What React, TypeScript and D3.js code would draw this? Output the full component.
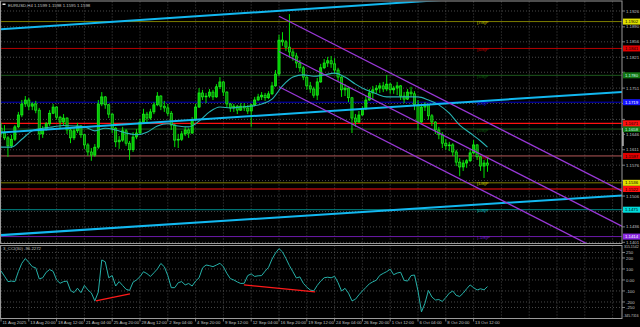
import React from 'react';
import * as d3 from 'd3';

const W = 640;
const H = 327;

// ---------- data ----------
const symbolHeader = 'EURUSD,H4  1.1599 1.1598 1.1595 1.1598';
const cciHeader = '3_CCI(30) -96.2272';

// OHLC, one candle per 2 H4 bars
const candles: [number, number, number, number][] = [
  [1.1660,1.1672,1.1640,1.1649],[1.1649,1.1667,1.1633,1.1638],[1.1638,1.1642,1.1595,1.1620],[1.1620,1.1645,1.1615,1.1635],
  [1.1635,1.1667,1.1631,1.1663],[1.1663,1.1697,1.1660,1.1690],[1.1690,1.1724,1.1685,1.1715],[1.1715,1.1733,1.1708,1.1724],
  [1.1724,1.1729,1.1701,1.1710],[1.1710,1.1719,1.1701,1.1715],[1.1715,1.1722,1.1694,1.1701],[1.1701,1.1706,1.1633,1.1647],
  [1.1647,1.1665,1.1638,1.1658],[1.1658,1.1674,1.1654,1.1670],[1.1670,1.1701,1.1665,1.1694],[1.1694,1.1715,1.1692,1.1708],
  [1.1708,1.1710,1.1679,1.1685],[1.1685,1.1688,1.1660,1.1674],[1.1674,1.1692,1.1667,1.1683],[1.1683,1.1685,1.1647,1.1656],
  [1.1656,1.1658,1.1626,1.1638],[1.1638,1.1660,1.1633,1.1654],[1.1654,1.1672,1.1649,1.1665],[1.1665,1.1667,1.1638,1.1645],
  [1.1645,1.1647,1.1613,1.1622],[1.1622,1.1626,1.1597,1.1606],[1.1606,1.1615,1.1586,1.1599],[1.1599,1.1624,1.1595,1.1617],
  [1.1617,1.1724,1.1613,1.1715],[1.1715,1.1742,1.1710,1.1731],[1.1731,1.1733,1.1704,1.1713],[1.1713,1.1715,1.1683,1.1692],
  [1.1692,1.1694,1.1649,1.1660],[1.1660,1.1663,1.1617,1.1629],[1.1629,1.1642,1.1613,1.1633],[1.1633,1.1663,1.1629,1.1654],
  [1.1654,1.1658,1.1620,1.1626],[1.1626,1.1631,1.1588,1.1611],[1.1611,1.1651,1.1606,1.1640],[1.1640,1.1658,1.1635,1.1649],
  [1.1649,1.1681,1.1647,1.1674],[1.1674,1.1704,1.1670,1.1692],[1.1692,1.1697,1.1674,1.1683],[1.1683,1.1704,1.1679,1.1697],
  [1.1697,1.1719,1.1692,1.1713],[1.1713,1.1742,1.1710,1.1733],[1.1733,1.1735,1.1701,1.1710],[1.1710,1.1722,1.1697,1.1706],
  [1.1706,1.1715,1.1688,1.1694],[1.1694,1.1699,1.1656,1.1667],[1.1667,1.1670,1.1617,1.1633],[1.1633,1.1647,1.1615,1.1635],
  [1.1635,1.1654,1.1631,1.1647],[1.1647,1.1663,1.1642,1.1656],[1.1656,1.1660,1.1638,1.1649],[1.1649,1.1685,1.1647,1.1679],
  [1.1679,1.1715,1.1676,1.1708],[1.1708,1.1751,1.1706,1.1740],[1.1740,1.1747,1.1724,1.1731],[1.1731,1.1740,1.1717,1.1733],
  [1.1733,1.1749,1.1729,1.1742],[1.1742,1.1747,1.1724,1.1731],[1.1731,1.1760,1.1729,1.1754],[1.1754,1.1776,1.1749,1.1765],
  [1.1765,1.1767,1.1733,1.1742],[1.1742,1.1744,1.1706,1.1715],[1.1715,1.1717,1.1697,1.1706],[1.1706,1.1715,1.1697,1.1710],
  [1.1710,1.1713,1.1692,1.1701],[1.1701,1.1717,1.1699,1.1710],[1.1710,1.1717,1.1699,1.1706],[1.1706,1.1713,1.1692,1.1699],
  [1.1699,1.1715,1.1663,1.1713],[1.1713,1.1731,1.1710,1.1724],[1.1724,1.1738,1.1722,1.1731],[1.1731,1.1742,1.1724,1.1735],
  [1.1735,1.1740,1.1722,1.1729],[1.1729,1.1744,1.1726,1.1738],[1.1738,1.1765,1.1735,1.1756],[1.1756,1.1792,1.1754,1.1783],
  [1.1783,1.1872,1.1778,1.1860],[1.1860,1.1878,1.1847,1.1856],[1.1856,1.1860,1.1835,1.1844],[1.1844,1.1919,1.1819,1.1833],
  [1.1833,1.1840,1.1813,1.1824],[1.1824,1.1831,1.1797,1.1808],[1.1808,1.1815,1.1788,1.1797],[1.1797,1.1801,1.1769,1.1776],
  [1.1776,1.1778,1.1747,1.1756],[1.1756,1.1765,1.1740,1.1749],[1.1749,1.1754,1.1729,1.1735],[1.1735,1.1774,1.1724,1.1765],
  [1.1765,1.1806,1.1763,1.1797],[1.1797,1.1817,1.1794,1.1808],[1.1808,1.1822,1.1799,1.1813],[1.1813,1.1824,1.1797,1.1806],
  [1.1806,1.1819,1.1783,1.1792],[1.1792,1.1797,1.1767,1.1776],[1.1776,1.1778,1.1731,1.1747],[1.1747,1.1760,1.1733,1.1751],
  [1.1751,1.1754,1.1719,1.1729],[1.1729,1.1731,1.1649,1.1683],[1.1683,1.1692,1.1663,1.1674],[1.1674,1.1699,1.1672,1.1690],
  [1.1690,1.1710,1.1688,1.1704],[1.1704,1.1733,1.1701,1.1724],[1.1724,1.1749,1.1722,1.1740],[1.1740,1.1756,1.1724,1.1747],
  [1.1747,1.1758,1.1738,1.1751],[1.1751,1.1763,1.1740,1.1756],[1.1756,1.1765,1.1742,1.1749],[1.1749,1.1781,1.1744,1.1760],
  [1.1760,1.1763,1.1738,1.1747],[1.1747,1.1756,1.1738,1.1751],[1.1751,1.1765,1.1735,1.1756],[1.1756,1.1758,1.1724,1.1733],
  [1.1733,1.1742,1.1717,1.1726],[1.1726,1.1749,1.1724,1.1742],[1.1742,1.1754,1.1731,1.1738],[1.1738,1.1744,1.1701,1.1713],
  [1.1713,1.1724,1.1656,1.1674],[1.1674,1.1715,1.1672,1.1708],[1.1708,1.1719,1.1699,1.1713],[1.1713,1.1715,1.1679,1.1688],
  [1.1688,1.1692,1.1665,1.1674],[1.1674,1.1676,1.1647,1.1656],[1.1656,1.1663,1.1635,1.1645],[1.1645,1.1651,1.1615,1.1626],
  [1.1626,1.1635,1.1611,1.1620],[1.1620,1.1629,1.1608,1.1622],[1.1622,1.1626,1.1597,1.1606],[1.1606,1.1611,1.1574,1.1583],
  [1.1583,1.1592,1.1551,1.1572],[1.1572,1.1588,1.1563,1.1581],[1.1581,1.1590,1.1570,1.1586],[1.1586,1.1611,1.1583,1.1604],
  [1.1604,1.1633,1.1601,1.1622],[1.1622,1.1624,1.1588,1.1595],[1.1595,1.1597,1.1563,1.1574],[1.1574,1.1588,1.1547,1.1581],
  [1.1581,1.1592,1.1561,1.1576],
];

// moving average: [candle index, value]
const maPoints: [number, number][] = [
  [0,1.1617],[3,1.1617],[6,1.1635],[9,1.1654],[12,1.1660],[15,1.1663],[18,1.1666],[21,1.1665],[24,1.1663],[27,1.1654],
  [30,1.1660],[33,1.1656],[36,1.1649],[39,1.1645],[42,1.1651],[45,1.1665],[48,1.1670],[51,1.1665],[54,1.1663],[57,1.1676],
  [60,1.1697],[63,1.1708],[66,1.1706],[69,1.1708],[72,1.1710],[75,1.1715],[78,1.1726],[81,1.1756],[84,1.1776],[87,1.1781],
  [90,1.1778],[93,1.1781],[96,1.1785],[99,1.1776],[102,1.1760],[105,1.1747],[108,1.1738],[111,1.1731],[114,1.1731],[117,1.1731],
  [120,1.1731],[123,1.1724],[126,1.1713],[129,1.1694],[132,1.1667],[135,1.1649],[138,1.1631],[140,1.1617],
];

// CCI(30), one value per candle
const cciValues: number[] = [
  82,35,-15,-10,-15,76,152,195,160,121,110,10,20,70,95,78,0,-30,-15,-10,
  -95,-115,-75,-115,-50,-90,-118,-190,-110,182,165,20,40,-55,-15,-50,-85,-95,-20,0,
  30,75,58,32,65,100,150,120,40,-70,-70,-25,-15,-45,-32,-55,-10,20,110,136,
  130,121,136,152,120,60,12,0,-18,-32,-30,40,55,32,38,40,80,115,190,245,
  285,255,195,130,75,18,28,-30,-65,-91,-100,-50,-10,20,25,20,33,-25,-100,-76,
  -120,-190,-175,-135,-100,-68,-35,-17,-2,42,60,76,98,48,63,70,-3,-10,40,45,
  -100,-290,-212,-95,-155,-182,-178,-195,-160,-120,-100,-140,-150,-120,-80,-45,-70,-91,-80,-90,
  -60,
];

// CCI divergence segments: [candle idx, cci, candle idx, cci]
const cciDivergences: [number, number, number, number][] = [
  [27.3, -191, 37.1, -127],
  [69.9, -45, 90.4, -109],
];

// rising channel (cyan): [idx0, price0, idx1, price1]
const risingChannel: [number, number, number, number][] = [
  [0, 1.1884, 180, 1.1979],
  [0, 1.1650, 180, 1.1743],
  [0, 1.1417, 180, 1.1508],
];
// falling channel (purple)
const fallingChannel: [number, number, number, number][] = [
  [80, 1.1914, 180, 1.1512],
  [80, 1.1834, 180, 1.1432],
  [80, 1.1754, 180, 1.1352],
];

const murrayPrices = [1.1902, 1.1841, 1.1780, 1.1719, 1.1658, 1.1597, 1.1536, 1.1475, 1.1414];
const murrayNames = ['[7/8]P', '[6/8]P', '[5/8]P', '[4/8]P', '[3/8]P', '[2/8]P', '[1/8]P', '[0/8]P', '[-1/8]P'];
const supportPrices = [1.1671, 1.1522];

const priceTicks = [1.1926, 1.1890, 1.1856, 1.1821, 1.1787, 1.1751, 1.1716, 1.1680, 1.1646, 1.1611, 1.1576, 1.1541, 1.1506, 1.1471, 1.1436, 1.1401];
const cciTicks = [250, 200, 100, 0, -100, -200, -250];
const cciTickLabels = ['250', '200', '100', '0.00', '-100', '-200', '-250'];
const cciMax = 315.1542;
const cciMin = -345.7316;

const dateLabels = [
  '11 Aug 2025', '13 Aug 20:00', '18 Aug 12:00', '21 Aug 04:00', '25 Aug 20:00', '28 Aug 12:00',
  '2 Sep 04:00', '4 Sep 20:00', '9 Sep 12:00', '12 Sep 04:00', '16 Sep 20:00', '19 Sep 12:00',
  '24 Sep 04:00', '26 Sep 20:00', '1 Oct 12:00', '6 Oct 04:00', '8 Oct 20:00', '13 Oct 12:00',
];

// ---------- styles ----------
const murrayLineColors = ['#7d7d00', '#b40000', '#1e5a1e', '#0000c8', '#1e5a1e', '#b45a5a', '#7d7d00', '#008b8b', '#6a1aa8'];
const murrayBoxColors = ['#e0e000', '#e00000', '#137513', '#1414ff', '#137513', '#e00000', '#e0e000', '#00dcdc', '#8a2be2'];
const murrayBoxText = ['#000', '#000', '#cfe', '#fff', '#cfe', '#000', '#000', '#000', '#fff'];
const FONT = 'Liberation Sans, Arial, sans-serif';
const TXT = '#c4c4c4';
const FS = 4.3;

export default function App() {
  const left = 1, right = 622;
  const mainTop = 1.5, mainBottom = 243.5;
  const cciTop = 245.5, cciBottom = 318.5;
  const barsPerCandle = 2;
  const barsPerLabel = 16;

  const x = d3.scaleLinear().domain([0, barsPerLabel]).range([1, 28.8]);
  const cx = (i: number) => x(i * barsPerCandle);
  const y = d3.scaleLinear().domain([1.1401, 1.1926]).range([242.3, 11]);
  const yc = d3.scaleLinear().domain([cciMin, cciMax]).range([318, 245.3]);

  const gridXs = d3.range(0, 23).map((k) => x(k * barsPerLabel));

  const maLine = d3.line<[number, number]>().x((d) => cx(d[0])).y((d) => y(d[1])).curve(d3.curveMonotoneX)(maPoints) || '';
  const cciLine = d3.line<number>().x((_, i) => cx(i)).y((d) => yc(d))(cciValues) || '';

  const bodyW = 2.2;
  const boxPrices = [...murrayPrices, ...supportPrices];
  const visibleTicks = priceTicks.filter((p) => boxPrices.every((b) => Math.abs(y(p) - y(b)) > 5));

  return (
    <svg width={W} height={H} style={{ position: 'absolute', left: 0, top: 0, background: '#000' }}>
      <defs>
        <clipPath id="mainClip"><rect x={left} y={mainTop} width={right - left} height={mainBottom - mainTop} /></clipPath>
        <clipPath id="cciClip"><rect x={left} y={cciTop} width={right - left} height={cciBottom - cciTop} /></clipPath>
      </defs>
      <rect x={0} y={0} width={W} height={H} fill="#000" />

      {/* grid */}
      <g stroke="#5a5a5a" strokeWidth={0.8} strokeDasharray="1,2">
        {gridXs.map((gx, i) => (
          <line key={'gv' + i} x1={gx} x2={gx} y1={mainTop} y2={mainBottom} />
        ))}
        {priceTicks.map((p, i) => (
          <line key={'gh' + i} x1={left} x2={right} y1={y(p)} y2={y(p)} />
        ))}
        {gridXs.map((gx, i) => (
          <line key={'cv' + i} x1={gx} x2={gx} y1={cciTop} y2={cciBottom} />
        ))}
        {cciTicks.map((v, i) => (
          <line key={'ch' + i} x1={left} x2={right} y1={yc(v)} y2={yc(v)} />
        ))}
      </g>

      <g clipPath="url(#mainClip)">
        {murrayPrices.map((p, i) => (
          <line key={'ml' + i} x1={left} x2={right} y1={y(p)} y2={y(p)} stroke={murrayLineColors[i]} strokeWidth={1} />
        ))}
        {supportPrices.map((p, i) => (
          <line key={'sl' + i} x1={left} x2={right} y1={y(p)} y2={y(p)} stroke="#ff1010" strokeWidth={1.2} />
        ))}
        {murrayPrices.map((p, i) => (
          <text key={'mn' + i} x={477} y={y(p) + 2.6} fontSize={4.4} fontFamily={FONT} fill={murrayBoxColors[i]} opacity={0.85}>
            {murrayNames[i]}
          </text>
        ))}

        {candles.map((c, i) => {
          const [o, h, l, cl] = c;
          const xx = cx(i);
          const up = cl >= o;
          const top = y(Math.max(o, cl));
          const bot = y(Math.min(o, cl));
          return (
            <g key={'c' + i}>
              <line x1={xx} x2={xx} y1={y(h)} y2={y(l)} stroke="#00e000" strokeWidth={1} />
              <rect x={xx - bodyW / 2} y={top} width={bodyW} height={Math.max(0.8, bot - top)}
                fill={up ? '#00c800' : '#008a00'} stroke="#22ff22" strokeWidth={0.6} />
            </g>
          );
        })}

        <path d={maLine} fill="none" stroke="#28b4b4" strokeWidth={1.1} />

        {risingChannel.map((s, i) => (
          <line key={'rc' + i} x1={cx(s[0]) - 2} x2={cx(s[2])} y1={y(s[1])} y2={y(s[3])} stroke="#12b8f0" strokeWidth={2} />
        ))}
        {fallingChannel.map((s, i) => (
          <line key={'fc' + i} x1={cx(s[0])} x2={cx(s[2])} y1={y(s[1])} y2={y(s[3])} stroke="#9a38d8" strokeWidth={1.3} />
        ))}
      </g>

      <g clipPath="url(#cciClip)">
        <path d={cciLine} fill="none" stroke="#26b0a8" strokeWidth={1} />
        {cciDivergences.map((s, i) => (
          <line key={'dv' + i} x1={cx(s[0])} x2={cx(s[2])} y1={yc(s[1])} y2={yc(s[3])} stroke="#ff1a1a" strokeWidth={1.3} />
        ))}
      </g>

      <g fill="none" stroke="#9a9a9a" strokeWidth={1}>
        <rect x={0.5} y={mainTop - 0.5} width={right - 0.5} height={mainBottom - mainTop + 0.5} />
        <rect x={0.5} y={cciTop} width={right - 0.5} height={cciBottom - cciTop} />
      </g>
      <line x1={right + 1} x2={right + 1} y1={128} y2={146} stroke="#ffffff" strokeWidth={1} />

      <g fontFamily={FONT} fontSize={FS} fill={TXT}>
        {priceTicks.map((p, i) => (
          <line key={'ptl' + i} x1={right} x2={right + 3} y1={y(p)} y2={y(p)} stroke="#9a9a9a" strokeWidth={0.8} />
        ))}
        {visibleTicks.map((p, i) => (
          <text key={'pt' + i} x={626} y={y(p) + 1.6}>{p.toFixed(4)}</text>
        ))}
      </g>
      <g fontFamily={FONT} fontSize={FS}>
        {murrayPrices.map((p, i) => (
          <g key={'mb' + i}>
            <rect x={623} y={y(p) - 3} width={17} height={6} fill={murrayBoxColors[i]} />
            <text x={625} y={y(p) + 1.6} fill={murrayBoxText[i]}>{p.toFixed(4)}</text>
          </g>
        ))}
        {supportPrices.map((p, i) => (
          <g key={'sb' + i}>
            <rect x={623} y={y(p) - 3} width={17} height={6} fill="#ff1010" />
            <text x={625} y={y(p) + 1.6} fill="#000">{p.toFixed(4)}</text>
          </g>
        ))}
      </g>

      <g fontFamily={FONT} fontSize={FS} fill={TXT}>
        <text x={624} y={yc(cciMax) + 3} fontSize={3.5}>{cciMax.toFixed(4)}</text>
        {cciTicks.map((v, i) => (
          <g key={'ct' + i}>
            <line x1={right} x2={right + 3} y1={yc(v)} y2={yc(v)} stroke="#9a9a9a" strokeWidth={0.8} />
            <text x={626} y={yc(v) + 1.6}>{cciTickLabels[i]}</text>
          </g>
        ))}
        <text x={623.3} y={yc(cciMin) - 0.8} fontSize={3.4}>{cciMin.toFixed(4)}</text>
      </g>

      <g fontFamily={FONT} fontSize={FS} fill={TXT}>
        {dateLabels.map((d, k) => (
          <g key={'dl' + k}>
            <line x1={x(k * barsPerLabel)} x2={x(k * barsPerLabel)} y1={cciBottom} y2={cciBottom + 3} stroke="#9a9a9a" strokeWidth={0.8} />
            <text x={x(k * barsPerLabel) + 1.5} y={324}>{d}</text>
          </g>
        ))}
      </g>

      <rect x={2.5} y={3.5} width={3} height={1.5} fill="#e0e0e0" />
      <text x={8} y={6.5} fontFamily={FONT} fontSize={FS} fill={TXT}>{symbolHeader}</text>
      <text x={3} y={249.5} fontFamily={FONT} fontSize={FS} fill={TXT}>{cciHeader}</text>
    </svg>
  );
}
